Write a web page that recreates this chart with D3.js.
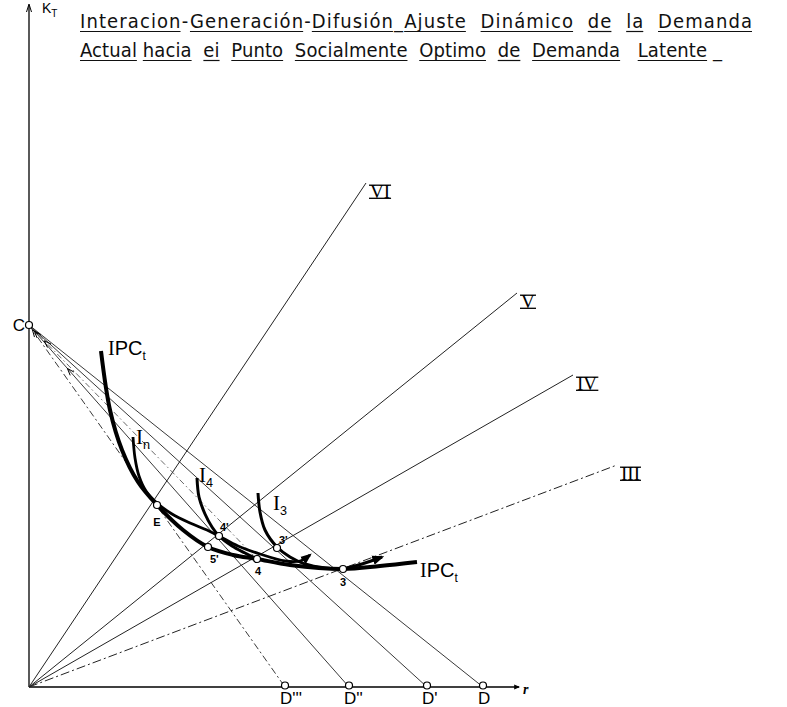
<!DOCTYPE html>
<meta charset="utf-8">
<script src="https://d3js.org/d3.v7.min.js"></script>
<style>
  body { margin: 0; background: #fff; }
  svg { display: block; }
</style>
<div id="chart"></div>
<script>

  // ---- data (r on the horizontal axis, K_T on the vertical axis) ----
  const titleLines = [
    "Interacion-Generación-Difusión_Ajuste  Dinámico  de  la  Demanda",
    "Actual hacia  ei  Punto  Socialmente  Optimo  de  Demanda   Latente _"
  ];

  const pointC = { name: "C", r: 0, k: 72.4 };

  const demandNames = ["D'''", "D''", "D'", "D"];
  const demandR = [51.2, 64, 79.6, 90.8];

  const rayNames = ["VI", "V", "IV", "III"];
  const rayEndR = [67.4, 97.6, 108.8, 117.6];
  const rayEndK = [100.8, 78.8, 62.4, 44.4];

  const pointNames = ["E", "5'", "4'", "4", "3'", "3"];
  const pointR = [25.6, 35.8, 38, 45.6, 49.6, 62.8];
  const pointK = [36.4, 28, 30.2, 25.6, 27.8, 23.6];

  const ipcR = [14.4, 16.2, 18.6, 21.8, 25.6, 30.8, 35.8, 40.8, 45.6, 52.2, 62.8, 70.2, 77.6];
  const ipcK = [67.2, 55.4, 47.4, 41, 36.4, 31.4, 28, 26.4, 25.6, 24.4, 23.6, 24.2, 25];

  const inR = [20.8, 21.2, 22, 23.4, 25.6, 28.6, 32.2, 35.6, 38, 41.8, 46.2, 51.2, 54.2, 56.2];
  const inK = [50, 45.8, 42.2, 39.2, 36.8, 34.6, 32.8, 31.4, 30.2, 28.2, 26.6, 25.2, 25.2, 26.4];

  const i4R = [33.6, 34, 35.2, 36.6, 38, 40.6, 43.2, 45.6];
  const i4K = [41.8, 38, 34.6, 32, 30.2, 28.2, 26.8, 25.6];

  const i3R = [45.8, 46.2, 47.2, 49.6, 52.2, 55.2, 59.2, 62.8];
  const i3K = [38.8, 35, 31.4, 28, 26, 24.6, 23.8, 23.6];

  const arrow3R = [62.8, 66.6, 70.6];
  const arrow3K = [23.6, 24.6, 26];

  // ---- drawing ----
  const width = 787, height = 707;

  const svg = d3.select("#chart")
    .append("svg")
    .attr("width", width)
    .attr("height", height);

  const x = d3.scaleLinear().domain([0, 100]).range([29, 529]);
  const y = d3.scaleLinear().domain([0, 100]).range([687, 187]);

  const sans = "'Liberation Sans', Arial, sans-serif";
  const serif = "'Liberation Serif', 'Times New Roman', serif";

  const zip = (rs, ks) => rs.map((r, i) => [r, ks[i]]);
  const line = d3.line().x(d => x(d[0])).y(d => y(d[1]));
  const smooth = d3.line().x(d => x(d[0])).y(d => y(d[1])).curve(d3.curveCatmullRom.alpha(0.5));

  svg.append("defs").append("marker")
    .attr("id", "head")
    .attr("viewBox", "0 0 10 10")
    .attr("refX", 8).attr("refY", 5)
    .attr("markerWidth", 4).attr("markerHeight", 4)
    .attr("orient", "auto")
    .append("path").attr("d", "M0,1 L10,5 L0,9 Z").attr("fill", "#000");

  // title with word underlines
  const titleY = [28, 57];
  const titleEnd = [752, 722];
  titleLines.forEach((s, i) => {
    const t = svg.append("text")
      .attr("x", 80).attr("y", titleY[i])
      .attr("textLength", titleEnd[i] - 80)
      .attr("lengthAdjust", "spacing")
      .style("white-space", "pre")
      .style("font-family", "'Liberation Sans Narrow', 'DejaVu Sans Condensed', sans-serif")
      .style("font-size", "20px")
      .attr("fill", "#111")
      .text(s);
    const node = t.node();
    const re = /[^\s\-_]+/g;
    let m;
    while ((m = re.exec(s))) {
      const a = node.getStartPositionOfChar(m.index).x;
      const b = node.getEndPositionOfChar(m.index + m[0].length - 1).x;
      svg.append("line")
        .attr("x1", a).attr("x2", b)
        .attr("y1", titleY[i] + 3.5).attr("y2", titleY[i] + 3.5)
        .attr("stroke", "#111").attr("stroke-width", 1.2);
    }
  });

  // axes
  svg.append("line")
    .attr("x1", x(0)).attr("y1", y(0)).attr("x2", x(0)).attr("y2", 6)
    .attr("stroke", "#000").attr("stroke-width", 1.3);
  svg.append("path")
    .attr("d", `M${x(0) - 2.5},12 L${x(0)},4 L${x(0) + 2.5},12`)
    .attr("fill", "none").attr("stroke", "#000").attr("stroke-width", 1);
  svg.append("line")
    .attr("x1", x(0)).attr("y1", y(0)).attr("x2", x(98)).attr("y2", y(0))
    .attr("stroke", "#000").attr("stroke-width", 1.5)
    .attr("marker-end", "url(#head)");

  const kt = svg.append("text").attr("x", x(0) + 13).attr("y", 13)
    .style("font-family", sans).style("font-size", "14px");
  kt.append("tspan").text("K");
  kt.append("tspan").attr("dy", 4).style("font-size", "10px").text("T");

  svg.append("text").attr("x", x(98.8)).attr("y", y(0) + 7)
    .style("font-family", serif).style("font-size", "14px")
    .style("font-style", "italic").style("font-weight", "bold")
    .text("r");

  // rays from the origin
  const rayDash = ["", "", "", "9,3,2,3"];
  rayNames.forEach((name, i) => {
    svg.append("path")
      .attr("d", line([[0, 0], [rayEndR[i], rayEndK[i]]]))
      .attr("stroke", "#222").attr("stroke-width", 1)
      .attr("stroke-dasharray", rayDash[i])
      .attr("fill", "none");
    const tx = x(rayEndR[i]) + 4, ty = y(rayEndK[i]) + 15;
    const t = svg.append("text").attr("x", tx).attr("y", ty)
      .style("font-family", serif).style("font-size", "19px")
      .text(name);
    const bb = t.node().getBBox();
    [ty - 12.8, ty + 0.3].forEach(yy => {
      svg.append("line")
        .attr("x1", bb.x - 1).attr("x2", bb.x + bb.width + 1)
        .attr("y1", yy).attr("y2", yy)
        .attr("stroke", "#000").attr("stroke-width", 1.3);
    });
  });

  // lines from C to the demand points
  const budgetDash = ["7,3,2,3", "", "", ""];
  demandNames.forEach((name, i) => {
    svg.append("path")
      .attr("d", line([[pointC.r, pointC.k], [demandR[i], 0]]))
      .attr("stroke", "#222").attr("stroke-width", 0.9)
      .attr("stroke-dasharray", budgetDash[i])
      .attr("fill", "none");
  });

  // dash-dot adjustment line from C to point 4
  const p4 = pointNames.indexOf("4");
  svg.append("path")
    .attr("d", line([[pointC.r, pointC.k], [pointR[p4], pointK[p4]]]))
    .attr("stroke", "#444").attr("stroke-width", 0.8)
    .attr("stroke-dasharray", "6,3,1.5,3")
    .attr("fill", "none");

  // small arrow heads pointing to C
  function chevron(r2, k2, dist) {
    const cx = x(pointC.r), cy = y(pointC.k);
    const dx = x(r2) - cx, dy = y(k2) - cy;
    const len = Math.hypot(dx, dy), ux = dx / len, uy = dy / len;
    const tipX = cx + ux * dist, tipY = cy + uy * dist;
    const bx = tipX + ux * 7, by = tipY + uy * 7;
    svg.append("path")
      .attr("d", `M${bx - uy * 2.5},${by + ux * 2.5} L${tipX},${tipY} L${bx + uy * 2.5},${by - ux * 2.5}`)
      .attr("fill", "none").attr("stroke", "#000").attr("stroke-width", 1);
  }
  chevron(demandR[0], 0, 6);
  chevron(demandR[1], 0, 8);
  chevron(demandR[1], 0, 58);
  chevron(pointR[p4], pointK[p4], 22);

  // curves
  svg.append("path").attr("d", smooth(zip(ipcR, ipcK)))
    .attr("fill", "none").attr("stroke", "#000").attr("stroke-width", 4)
    .attr("stroke-linecap", "butt");
  svg.append("path").attr("d", smooth(zip(inR, inK)))
    .attr("fill", "none").attr("stroke", "#000").attr("stroke-width", 2.8)
    .attr("marker-end", "url(#head)");
  svg.append("path").attr("d", smooth(zip(i4R, i4K)))
    .attr("fill", "none").attr("stroke", "#000").attr("stroke-width", 3);
  svg.append("path").attr("d", smooth(zip(i3R, i3K)))
    .attr("fill", "none").attr("stroke", "#000").attr("stroke-width", 3);
  svg.append("path").attr("d", smooth(zip(arrow3R, arrow3K)))
    .attr("fill", "none").attr("stroke", "#000").attr("stroke-width", 3)
    .attr("marker-end", "url(#head)");

  // curve labels
  function curveLabel(px, py, sub, mainSans, size) {
    const t = svg.append("text").attr("x", px).attr("y", py)
      .style("font-size", size + "px");
    t.append("tspan").style("font-family", serif).text("I");
    if (mainSans) t.append("tspan").style("font-family", sans).text(mainSans);
    t.append("tspan").attr("dy", 5).style("font-family", sans)
      .style("font-size", (size * 0.6) + "px").text(sub);
  }
  curveLabel(x(ipcR[0]) + 7, y(ipcK[0]) + 4, "t", "PC", 20);
  curveLabel(x(ipcR[ipcR.length - 1]) + 3, y(ipcK[ipcK.length - 1]) + 15, "t", "PC", 20);
  curveLabel(x(inR[0]) + 3, y(inK[0]) + 7, "n", null, 21);
  curveLabel(x(i4R[0]) + 2, y(i4K[0]) + 4, "4", null, 21);
  curveLabel(x(i3R[0]) + 15, y(i3K[0]) + 17, "3", null, 21);

  // open points
  const circle = (cx, cy) => svg.append("circle")
    .attr("cx", cx).attr("cy", cy).attr("r", 3.5)
    .attr("fill", "#fff").attr("stroke", "#000").attr("stroke-width", 1.2);

  circle(x(pointC.r), y(pointC.k));
  svg.append("text").attr("x", x(pointC.r) - 4).attr("y", y(pointC.k) + 6)
    .attr("text-anchor", "end")
    .style("font-family", sans).style("font-size", "17px").text(pointC.name);

  demandNames.forEach((name, i) => {
    circle(x(demandR[i]), y(0) - 1.5);
    svg.append("text").attr("x", x(demandR[i]) - 5).attr("y", 704)
      .style("font-family", sans).style("font-size", "17px").text(name);
  });

  const labelPlace = {
    "E":  { dx: 0, dy: 21, anchor: "middle" },
    "5'": { dx: 2, dy: 16, anchor: "start" },
    "4'": { dx: 1, dy: -5, anchor: "start" },
    "4":  { dx: 1, dy: 16, anchor: "middle" },
    "3'": { dx: 2, dy: -4, anchor: "start" },
    "3":  { dx: 0, dy: 17, anchor: "middle" }
  };
  pointNames.forEach((name, i) => {
    const cx = x(pointR[i]), cy = y(pointK[i]);
    circle(cx, cy);
    const p = labelPlace[name];
    svg.append("text").attr("x", cx + p.dx).attr("y", cy + p.dy)
      .attr("text-anchor", p.anchor)
      .style("font-family", sans).style("font-size", "11px").style("font-weight", "bold")
      .text(name);
  });

</script>
